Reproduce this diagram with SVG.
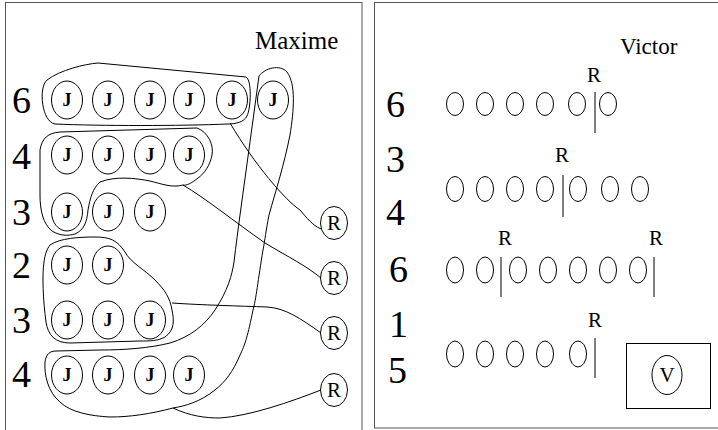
<svg xmlns="http://www.w3.org/2000/svg" width="718" height="430" viewBox="0 0 718 430">
<style>
.panel{fill:#fff;stroke:#555;stroke-width:1}
.ln{fill:none;stroke:#000;stroke-width:1}
.j{fill:#fff;stroke:#000;stroke-width:1}
.jt{font-family:"Liberation Serif",serif;font-size:18px;font-weight:bold;text-anchor:middle;fill:#000}
.rt{font-family:"Liberation Serif",serif;font-size:21px;text-anchor:middle;fill:#000}
.num{font-family:"Liberation Serif",serif;font-size:38px;fill:#000}
.name{font-family:"Liberation Serif",serif;fill:#000}
.o{fill:none;stroke:#000;stroke-width:1}
</style>
<rect width="718" height="430" fill="#fff"/>
<g id="panel-maxime">
<rect class="panel" x="5.5" y="2.5" width="356.5" height="440"/>
<text class="name" x="255" y="49" font-size="25">Maxime</text>
<text class="num" x="12" y="113">6</text>
<text class="num" x="12" y="169">4</text>
<text class="num" x="12" y="225">3</text>
<text class="num" x="12" y="278">2</text>
<text class="num" x="12" y="333">3</text>
<text class="num" x="12" y="387">4</text>
</g>
<g id="connectors">
<path class="ln" d="M47,80 C60,70 85,64 98,63 L246,77 C252,80 251,108 247,116 C244,122 236,124 228,124 C180,126 100,126 55,124 C42,122 38,88 47,80 Z"/>
<path class="ln" d="M40,150 C42,138 48,133 60,132 L197,128 C208,132 214,145 212,155 C210,165 205,173 198,178 C192,183 186,186 183,185 C172,188 162,184 150,181 C135,178 115,176 100,182 C93,188 90,198 88,210 C87,222 84,230 75,234 C68,236 60,236 52,231 C43,224 40,210 40,195 Z"/>
<path class="ln" d="M259,76 C265,68 280,64 287,72 C296,84 294,110 290,135 C284,165 276,190 269,215 C266,230 265,240 263,250 C258,280 256,300 253,310 C248,335 245,345 240,355 C233,372 225,382 215,390 C200,402 185,406 173,408 C150,414 130,417 110,417 C90,416 70,412 60,402 C48,392 44,375 45,362 C46,354 50,351 56,351 L100,350 C125,350 150,348 170,343 C190,337 205,325 215,310 C228,290 232,275 234,262 C236,245 238,230 240,215 L259,76 Z"/>
<path class="ln" d="M50,245 C60,238 80,237 95,237 C110,237 117,240 125,252 C130,262 145,270 155,280 C165,290 170,298 172,310 C174,320 175,330 165,337 C158,341 150,341 140,341 L70,343 C55,343 48,335 46,322 C43,300 42,275 44,262 C45,254 47,249 50,245 Z"/>
<path class="ln" d="M230,123 C255,165 285,200 300,210 C307,218 312,225 321,229"/>
<path class="ln" d="M183,185 C205,198 235,222 265,243 C290,258 305,265 321,278"/>
<path class="ln" d="M172,303 C200,305 240,306 267,307 C285,308 300,318 321,333"/>
<path class="ln" d="M173,408 C190,416 205,418 220,418 C250,416 290,402 321,390"/>
<path class="ln" d="M406,102 L441,104"/>
<path class="ln" d="M408,162 C416,172 419,180 418,188 C417,198 414,208 408,218"/>
<path class="ln" d="M418,185 L446,191"/>
<path class="ln" d="M411,263 C417,275 419,286 418,296 C416,308 412,318 406,327"/>
<path class="ln" d="M417,295 L446,277"/>
<path class="ln" d="M408,378 L446,363"/>
</g>
<g id="row6">
<ellipse class="j" cx="67" cy="100" rx="15.5" ry="19"/><text class="jt" x="67" y="106">J</text>
<ellipse class="j" cx="108" cy="100" rx="15.5" ry="19"/><text class="jt" x="108" y="106">J</text>
<ellipse class="j" cx="150" cy="100" rx="15.5" ry="19"/><text class="jt" x="150" y="106">J</text>
<ellipse class="j" cx="189" cy="100" rx="15.5" ry="19"/><text class="jt" x="189" y="106">J</text>
<ellipse class="j" cx="232" cy="100" rx="15.5" ry="19"/><text class="jt" x="232" y="106">J</text>
<ellipse class="j" cx="273" cy="100" rx="15.5" ry="19"/><text class="jt" x="273" y="106">J</text>
</g>
<g id="row4a">
<ellipse class="j" cx="67" cy="155" rx="15.5" ry="19"/><text class="jt" x="67" y="161">J</text>
<ellipse class="j" cx="108" cy="155" rx="15.5" ry="19"/><text class="jt" x="108" y="161">J</text>
<ellipse class="j" cx="150" cy="155" rx="15.5" ry="19"/><text class="jt" x="150" y="161">J</text>
<ellipse class="j" cx="189" cy="155" rx="15.5" ry="19"/><text class="jt" x="189" y="161">J</text>
</g>
<g id="row3a">
<ellipse class="j" cx="67" cy="212" rx="15.5" ry="19"/><text class="jt" x="67" y="218">J</text>
<ellipse class="j" cx="108" cy="212" rx="15.5" ry="19"/><text class="jt" x="108" y="218">J</text>
<ellipse class="j" cx="150" cy="212" rx="15.5" ry="19"/><text class="jt" x="150" y="218">J</text>
</g>
<g id="row2">
<ellipse class="j" cx="67" cy="265" rx="15.5" ry="19"/><text class="jt" x="67" y="271">J</text>
<ellipse class="j" cx="108" cy="265" rx="15.5" ry="19"/><text class="jt" x="108" y="271">J</text>
</g>
<g id="row3b">
<ellipse class="j" cx="67" cy="320" rx="15.5" ry="19"/><text class="jt" x="67" y="326">J</text>
<ellipse class="j" cx="108" cy="320" rx="15.5" ry="19"/><text class="jt" x="108" y="326">J</text>
<ellipse class="j" cx="150" cy="320" rx="15.5" ry="19"/><text class="jt" x="150" y="326">J</text>
</g>
<g id="row4b">
<ellipse class="j" cx="67" cy="375" rx="15.5" ry="19"/><text class="jt" x="67" y="381">J</text>
<ellipse class="j" cx="108" cy="375" rx="15.5" ry="19"/><text class="jt" x="108" y="381">J</text>
<ellipse class="j" cx="150" cy="375" rx="15.5" ry="19"/><text class="jt" x="150" y="381">J</text>
<ellipse class="j" cx="189" cy="375" rx="15.5" ry="19"/><text class="jt" x="189" y="381">J</text>
</g>
<g id="r-nodes">
<ellipse class="j" cx="334" cy="223" rx="13.5" ry="16.5"/><text class="rt" x="334" y="230">R</text>
<ellipse class="j" cx="334" cy="278" rx="13.5" ry="16.5"/><text class="rt" x="334" y="285">R</text>
<ellipse class="j" cx="334" cy="333" rx="13.5" ry="16.5"/><text class="rt" x="334" y="340">R</text>
<ellipse class="j" cx="334" cy="390" rx="13.5" ry="16.5"/><text class="rt" x="334" y="397">R</text>
</g>
<g id="panel-victor">
<rect class="panel" x="374.5" y="2.5" width="350" height="425.5"/>
<text class="name" x="620" y="54" font-size="23">Victor</text>
<text class="num" x="386" y="117">6</text>
<text class="num" x="386" y="172">3</text>
<text class="num" x="386" y="225">4</text>
<text class="num" x="389" y="282">6</text>
<text class="num" x="389" y="337">1</text>
<text class="num" x="388" y="383">5</text>
</g>
<g id="vrow1">
<ellipse class="o" cx="455" cy="104" rx="8.5" ry="11.5"/>
<ellipse class="o" cx="485" cy="104" rx="8.5" ry="11.5"/>
<ellipse class="o" cx="515" cy="104" rx="8.5" ry="11.5"/>
<ellipse class="o" cx="545" cy="104" rx="8.5" ry="11.5"/>
<ellipse class="o" cx="577" cy="104" rx="8.5" ry="11.5"/>
<ellipse class="o" cx="608" cy="104" rx="8.5" ry="11.5"/>
<line class="ln" x1="595" y1="92" x2="595" y2="133"/>
<text class="rt" x="594" y="82">R</text>
</g>
<g id="vrow2">
<ellipse class="o" cx="455" cy="189" rx="8.5" ry="12.5"/>
<ellipse class="o" cx="485" cy="189" rx="8.5" ry="12.5"/>
<ellipse class="o" cx="515" cy="189" rx="8.5" ry="12.5"/>
<ellipse class="o" cx="545" cy="189" rx="8.5" ry="12.5"/>
<ellipse class="o" cx="578" cy="189" rx="8.5" ry="12.5"/>
<ellipse class="o" cx="610" cy="189" rx="8.5" ry="12.5"/>
<ellipse class="o" cx="640" cy="189" rx="8.5" ry="12.5"/>
<line class="ln" x1="563" y1="175" x2="563" y2="217"/>
<text class="rt" x="562" y="162">R</text>
</g>
<g id="vrow3">
<ellipse class="o" cx="455" cy="270" rx="8.5" ry="13"/>
<ellipse class="o" cx="485" cy="270" rx="8.5" ry="13"/>
<ellipse class="o" cx="518" cy="270" rx="8.5" ry="13"/>
<ellipse class="o" cx="548" cy="270" rx="8.5" ry="13"/>
<ellipse class="o" cx="578" cy="270" rx="8.5" ry="13"/>
<ellipse class="o" cx="608" cy="270" rx="8.5" ry="13"/>
<ellipse class="o" cx="638" cy="270" rx="8.5" ry="13"/>
<line class="ln" x1="501" y1="257" x2="501" y2="297"/>
<line class="ln" x1="654" y1="257" x2="654" y2="297"/>
<text class="rt" x="505" y="245">R</text>
<text class="rt" x="656" y="245">R</text>
</g>
<g id="vrow4">
<ellipse class="o" cx="455" cy="354" rx="8.5" ry="13"/>
<ellipse class="o" cx="485" cy="354" rx="8.5" ry="13"/>
<ellipse class="o" cx="515" cy="354" rx="8.5" ry="13"/>
<ellipse class="o" cx="545" cy="354" rx="8.5" ry="13"/>
<ellipse class="o" cx="578" cy="354" rx="8.5" ry="13"/>
<line class="ln" x1="595" y1="338" x2="595" y2="378"/>
<text class="rt" x="595" y="327">R</text>
</g>
<g id="v-box">
<rect class="o" x="626.5" y="343.5" width="84" height="65"/>
<ellipse class="o" cx="667" cy="375" rx="15" ry="19.5"/>
<text class="rt" x="667" y="382">V</text>
</g>
</svg>
